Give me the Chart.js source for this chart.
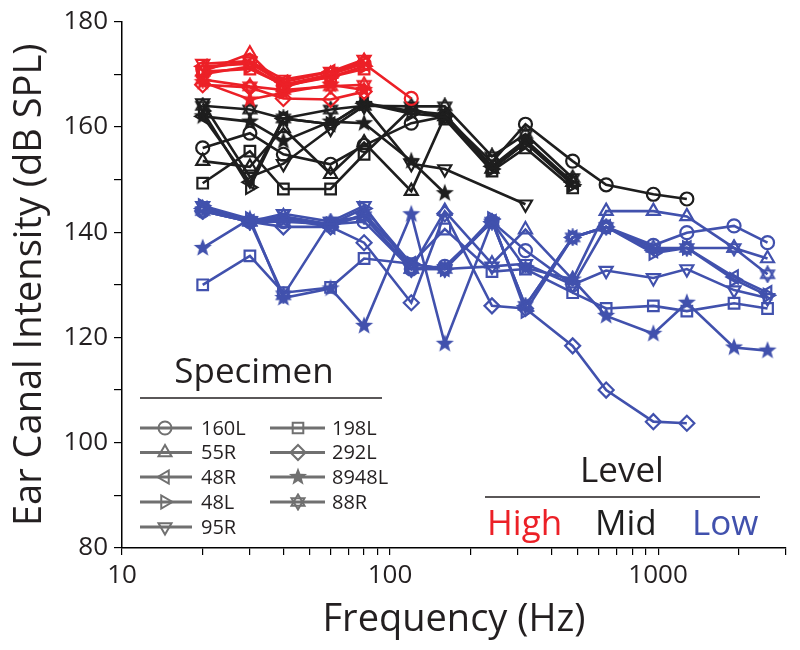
<!DOCTYPE html>
<html><head><meta charset="utf-8">
<script src="https://cdn.jsdelivr.net/npm/chart.js"></script>
<style>html,body{margin:0;padding:0;background:#fff}</style>
</head><body>
<canvas id="c" width="800" height="650"></canvas>
<script>
// ---------------- DATA ----------------
const freqs = [20, 30, 40, 60, 80, 120, 160, 240, 320, 480, 640, 960, 1280, 1920, 2560];
const specimens = ['160L', '55R', '48R', '48L', '95R', '198L', '292L', '8948L', '88R'];
const levels = ['High', 'Mid', 'Low'];
const xTickLabels = [10, 100, 1000];
const yTickLabels = [80, 100, 120, 140, 160, 180];

// High level (dB SPL), indexed like freqs
const high160L  = [171, 172.5, 168, 170, 172, 165.4];
const high55R   = [170.5, 173.9, 167.5, 170, 172.5];
const high48R   = [171.5, 172, 168.5, 170.5, 172];
const high48L   = [170, 171.5, 167.8, 169.5, 171.5];
const high95R   = [172, 172.5, 169, 170.5, 172.8];
const high198L  = [170.5, 171, 168, 169.5, 171];
const high292L  = [168, 167.5, 165.4, 165.2, 166.7];
const high8948L = [168.5, 165.2, 166.5, 168, 167];
const high88R   = [169, 167.7, 167, 167.7, 168];

// Mid level
const mid160L  = [156, 158.8, 154.8, 152.9, 156.5, 160.7, 162, 153.3, 160.5, 153.5, 149, 147.2, 146.3];
const mid55R   = [153.5, 152.4, 159.7, 151, 157, 147.8, 162, 152, 157, 149.5];
const mid48R   = [162, 149.5, 161.6, 160.5, 164.5, 163, 162.4, 152.5, 157.5, 149.5];
const mid48L   = [163, 148.5, 161.6, 160.5, 164.5, 162.5, 162, 152, 157, 149];
const mid95R   = [164.5, 150.5, 153, 159.7, 164, 153, 152, null, 145.3];
const mid198L  = [149.3, 155.4, 148.2, 148.2, 154.8, 163.5, 161.5, 151.6, 156, 148.4];
const mid292L  = [];
const mid8948L = [162, 161, 157.3, 161, 160.7, 153.5, 147.4];
const mid88R   = [164, 163.3, 161.6, 163.3, 164, 163.9, 163.9, 154.4, 158.6, 150.3];

// Low level
const low160L  = [144, 142, 142, 141.5, 142, 133, 133.5, 142, 136.5, 130, 141, 137.5, 139.9, 141.2, 138];
const low55R   = [144.5, 142, 143, 141.5, 143, 133, 144, 134, 140.5, 131, 144, 144, 143, 137, 135];
const low48R   = [144.5, 142, 142.5, 141, 143.5, 134, 133, 142, 126, 139, 141, 136.5, 137, 131.5, 128.5];
const low48L   = [145, 142.5, 142.5, 141.5, 144.5, 134, 133, 142.5, 125, 139, 141, 136, 137, 131, 128];
const low95R   = [145, 142, 143.5, 142, 145, 133, 133, 133.5, 134, 130, 132.7, 131.3, 133, 129, 127.5];
const low198L  = [130, 135.5, 128.5, 129.5, 135, 134, 140.6, 132.5, 133, 128.5, 125.5, 126, 125, 126.5, 125.5];
const low292L  = [144, 142, 141, 141, 138, 126.6, 143.5, 126, 125.5, 118.4, 110, 104, 103.7];
const low8948L = [137, 142.5, 127.5, 129.3, 122.2, 143.4, 118.8, 142, 133.2, 131, 124.1, 120.7, 126.6, 118.1, 117.5];
const low88R   = [144, 142, 128, 142, 143, 133, 133, 142, 126, 139, 141, 137, 137, 137, 132];

// ---------------- STYLE ----------------
const FONT = '"Open Sans", "DejaVu Sans", sans-serif';
const TEXT = '#231f20';
const GREY = '#707070';
const levelColor = { High: '#ec2027', Mid: '#1e1e1e', Low: '#4151ad' };

function makeStar5(color, size) {
  const c = document.createElement('canvas'); c.width = c.height = size;
  const g = c.getContext('2d'); const cx = size / 2, cy = size / 2, R = size / 2 - 0.5, r = R * 0.42;
  g.beginPath();
  for (let i = 0; i < 10; i++) {
    const a = -Math.PI / 2 + i * Math.PI / 5; const rr = i % 2 ? r : R;
    g.lineTo(cx + rr * Math.cos(a), cy + rr * Math.sin(a));
  }
  g.closePath(); g.fillStyle = color; g.fill();
  return c;
}
function makeHex(color, size) {
  const c = document.createElement('canvas'); c.width = c.height = size;
  const g = c.getContext('2d'); const cx = size / 2, cy = size / 2, R = size / 2 - 1.5;
  g.strokeStyle = color; g.lineWidth = 2;
  for (const off of [-Math.PI / 2, Math.PI / 2]) {
    g.beginPath();
    for (let i = 0; i < 3; i++) { const a = off + i * 2 * Math.PI / 3; g.lineTo(cx + R * Math.cos(a), cy + R * Math.sin(a)); }
    g.closePath(); g.stroke();
  }
  return c;
}

function markerFor(sp, color) {
  switch (sp) {
    case '160L': return { pointStyle: 'circle', rotation: 0, radius: 6.5 };
    case '55R': return { pointStyle: 'triangle', rotation: 0, radius: 7.5 };
    case '48R': return { pointStyle: 'triangle', rotation: -90, radius: 7.5 };
    case '48L': return { pointStyle: 'triangle', rotation: 90, radius: 7.5 };
    case '95R': return { pointStyle: 'triangle', rotation: 180, radius: 7.5 };
    case '198L': return { pointStyle: 'rect', rotation: 0, radius: 7.5 };
    case '292L': return { pointStyle: 'rectRot', rotation: 0, radius: 7.5 };
    case '8948L': return { pointStyle: makeStar5(color, 20), rotation: 0, radius: 8 };
    case '88R': return { pointStyle: makeHex(color, 18), rotation: 0, radius: 8 };
  }
}

const seriesTable = {
  High: { '160L': high160L, '55R': high55R, '48R': high48R, '48L': high48L, '95R': high95R, '198L': high198L, '292L': high292L, '8948L': high8948L, '88R': high88R },
  Mid: { '160L': mid160L, '55R': mid55R, '48R': mid48R, '48L': mid48L, '95R': mid95R, '198L': mid198L, '292L': mid292L, '8948L': mid8948L, '88R': mid88R },
  Low: { '160L': low160L, '55R': low55R, '48R': low48R, '48L': low48L, '95R': low95R, '198L': low198L, '292L': low292L, '8948L': low8948L, '88R': low88R }
};

const datasets = [];
for (const lv of levels) {
  const col = levelColor[lv];
  for (const sp of specimens) {
    const vals = seriesTable[lv][sp];
    const pts = freqs.map((f, i) => ({ x: f, y: vals[i] })).filter(p => p.y !== undefined && p.y !== null);
    if (!pts.length) continue;
    const m = markerFor(sp, col);
    datasets.push({
      label: lv + ' ' + sp,
      data: pts,
      showLine: true,
      borderColor: col,
      borderWidth: 2.6,
      backgroundColor: 'rgba(0,0,0,0)',
      pointStyle: m.pointStyle,
      pointRotation: m.rotation,
      pointRadius: m.radius,
      pointBorderWidth: 2.2,
      pointBorderColor: col,
      pointBackgroundColor: 'rgba(0,0,0,0)',
      tension: 0
    });
  }
}

// ---------------- LEGENDS ----------------
const legendPlugin = {
  id: 'customLegends',
  afterDraw(chart) {
    const ctx = chart.ctx;
    ctx.save();
    ctx.fillStyle = TEXT; ctx.textBaseline = 'middle'; ctx.textAlign = 'center';
    ctx.font = '35px ' + FONT;
    ctx.fillText('Specimen', 254, 373);
    ctx.strokeStyle = TEXT; ctx.lineWidth = 1.5;
    ctx.beginPath(); ctx.moveTo(140, 398); ctx.lineTo(382, 398); ctx.stroke();

    const rowsY = [428, 452.5, 477, 502, 527];
    const cols = [
      { x0: 140, x1: 192, mx: 165, tx: 201, items: ['160L', '55R', '48R', '48L', '95R'] },
      { x0: 270, x1: 325, mx: 298, tx: 332, items: ['198L', '292L', '8948L', '88R'] }
    ];
    ctx.textAlign = 'left'; ctx.font = '20px ' + FONT;
    for (const c of cols) {
      c.items.forEach((sp, i) => {
        const y = rowsY[i];
        ctx.strokeStyle = GREY; ctx.lineWidth = 3;
        ctx.beginPath(); ctx.moveTo(c.x0, y); ctx.lineTo(c.x1, y); ctx.stroke();
        const m = markerFor(sp, GREY);
        ctx.lineWidth = 2; ctx.fillStyle = 'rgba(0,0,0,0)'; ctx.strokeStyle = GREY;
        Chart.helpers.drawPoint(ctx, { pointStyle: m.pointStyle, rotation: m.rotation, radius: m.radius, borderWidth: 2 }, c.mx, y);
        ctx.fillStyle = TEXT;
        ctx.fillText(sp, c.tx, y + 1);
      });
    }

    ctx.textAlign = 'center'; ctx.font = '35px ' + FONT; ctx.fillStyle = TEXT;
    ctx.fillText('Level', 622, 472);
    ctx.strokeStyle = TEXT; ctx.lineWidth = 1.5;
    ctx.beginPath(); ctx.moveTo(485, 497); ctx.lineTo(760, 497); ctx.stroke();
    ctx.textAlign = 'left';
    const lvX = { High: 487, Mid: 595, Low: 692 };
    for (const lv of levels) { ctx.fillStyle = levelColor[lv]; ctx.fillText(lv, lvX[lv], 525); }
    ctx.restore();
  }
};

// ---------------- CHART ----------------
const xMinor = [];
for (const d of [10, 100, 1000]) for (let k = 1; k <= 9; k++) { const v = k * d; if (v <= 3000) xMinor.push(v); }

new Chart(document.getElementById('c'), {
  type: 'scatter',
  data: { datasets },
  options: {
    responsive: false,
    devicePixelRatio: 1,
    animation: false,
    layout: { padding: { left: 0, right: 14, top: 20, bottom: 0 } },
    plugins: { legend: { display: false }, tooltip: { enabled: false } },
    scales: {
      x: {
        type: 'logarithmic', min: 10, max: 3000, position: 'bottom',
        border: { color: '#000', width: 1.5 },
        grid: { drawOnChartArea: false, drawTicks: true, tickLength: 7, color: '#000', lineWidth: 1.2 },
        afterBuildTicks: s => { s.ticks = xMinor.map(v => ({ value: v, major: xTickLabels.includes(v) })); },
        ticks: {
          autoSkip: false, maxRotation: 0, color: TEXT, padding: 5,
          font: { family: FONT, size: 26 },
          callback: v => xTickLabels.includes(v) ? String(v) : ''
        },
        title: { display: true, text: 'Frequency (Hz)', color: TEXT, font: { family: FONT, size: 38 }, padding: { top: 0, bottom: 7 } },
        afterFit: s => { s.height = 102; }
      },
      y: {
        type: 'linear', min: 80, max: 180,
        border: { color: '#000', width: 1.5 },
        grid: { drawOnChartArea: false, drawTicks: true, tickLength: 8, color: '#000', lineWidth: 1.2 },
        afterBuildTicks: s => { const t = []; for (let v = 80; v <= 180; v += 10) t.push({ value: v }); s.ticks = t; },
        ticks: {
          autoSkip: false, color: TEXT, padding: 6,
          font: { family: FONT, size: 26 },
          callback: v => yTickLabels.includes(v) ? String(v) : ''
        },
        title: { display: true, text: 'Ear Canal Intensity (dB SPL)', color: TEXT, font: { family: FONT, size: 38 }, padding: { top: 7, bottom: 0 } },
        afterFit: s => { s.width = 122; }
      }
    }
  },
  plugins: [legendPlugin]
});
</script>
</body></html>
